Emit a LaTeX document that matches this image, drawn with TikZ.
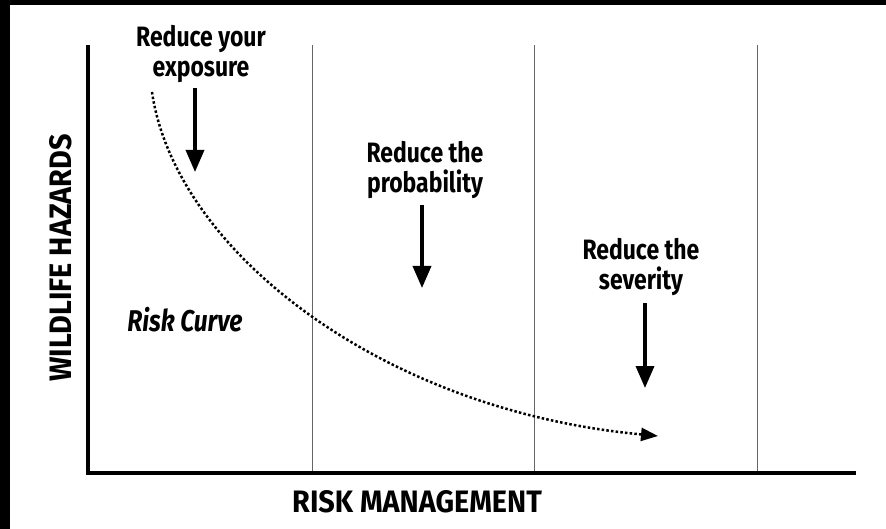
\documentclass[tikz,border=0pt]{standalone}
\usepackage{fontspec}
\newfontfamily\condfont{Fira Sans}[FakeStretch=0.82]
\newfontfamily\axfont{Fira Sans}[FakeStretch=0.93]
\usetikzlibrary{arrows.meta,positioning}
\tikzset{
  axisline/.style ={line width=4.5pt,black,line join=miter},
  gridline/.style ={line width=1pt,black!60},
  ar/.style       ={-{Triangle[length=22pt,width=18pt]},line width=3.5pt},
  curve/.style    ={-{Triangle[length=17pt,width=13pt]},line width=2.5pt,
                    dash pattern=on 2.5pt off 2.2pt},
  lbl/.style      ={font=\condfont\bfseries\fontsize{28}{30}\selectfont,
                    align=center,inner sep=0pt},
  axlbl/.style    ={font=\axfont\bfseries\fontsize{31}{33}\selectfont,inner sep=0pt},
  itlbl/.style    ={font=\condfont\bfseries\itshape\fontsize{30}{32}\selectfont,inner sep=0pt},
}
\begin{document}
\begin{tikzpicture}[x=1pt,y=-1pt]
\useasboundingbox (0,0) rectangle (886,529);
% dark edge of the frame
\fill[black] (0,0) rectangle (886,5);
\fill[black] (0,0) rectangle (10,529);

% columns
\foreach \x in {312,534,757}
  \draw[gridline] (\x,45) -- (\x,473);

% axes
\coordinate (top) at (88,45);
\coordinate (orig) at (88,473);
\coordinate (right) at (856,473);
\draw[axisline] (top) -- (orig) -- (right);

\node[axlbl] (xlab) at (417,502) {RISK MANAGEMENT};
\node[axlbl,rotate=90] (ylab) at (61,258) {WILDLIFE HAZARDS};

% the three steps
\node[lbl] (expo) at (201,54) {Reduce your\\exposure};
\node[lbl] (prob) at (425,170) {Reduce the\\probability};
\node[lbl] (sev)  at (641,267) {Reduce the\\severity};

\coordinate (e1) at (195,88);  \coordinate (e2) at (195,172);
\coordinate (p1) at (422,205); \coordinate (p2) at (422,288);
\coordinate (s1) at (645,303); \coordinate (s2) at (645,388);
\draw[ar] (e1) -- (e2);
\draw[ar] (p1) -- (p2);
\draw[ar] (s1) -- (s2);

% risk curve
\node[itlbl] (rc) at (185,320) {Risk Curve};
\coordinate (c0) at (152,92);
\coordinate (c1) at (658,436);
\draw[curve] (c0) .. controls (175,250) and (380,410) .. (c1);
\end{tikzpicture}
\end{document}
